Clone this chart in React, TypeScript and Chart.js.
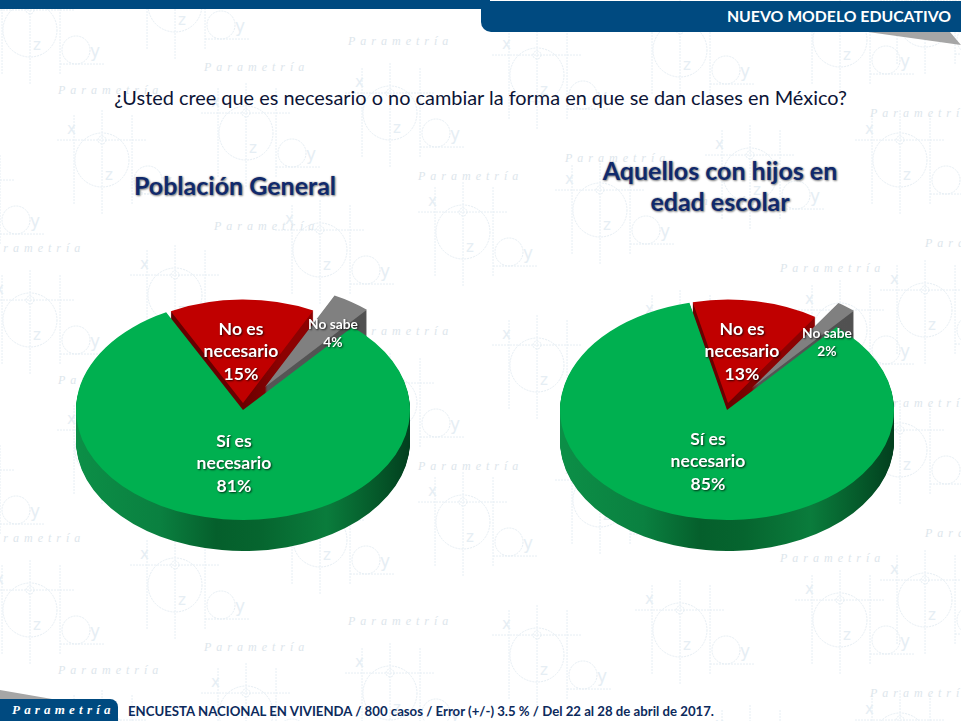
import { useEffect, useRef } from "react";
import Chart from "chart.js/auto";

const categories = ["Sí es necesario", "No es necesario", "No sabe"];
const labelLines = [["Sí es", "necesario"], ["No es", "necesario"], ["No sabe"]];
const generalValues = [81, 15, 4];
const hijosValues = [85, 13, 2];

const faceColors = ["#00b050", "#c00000", "#808080"];
const CANVAS = 400;
const RADIUS = 167;
const SQUASH = 110 / 167;
const DEPTH = 31;

const generalLayout = {
  left: 43, top: 210, rotation: 41,
  lifts: [{ x: 0, y: 0, s: 1 }, { x: 0, y: -7, s: 0.94 }, { x: 22, y: -23, s: 0.93 }],
  labels: [{ x: 234, y: 441 }, { x: 241, y: 329 }, { x: 333, y: 325 }],
};
const hijosLayout = {
  left: 527, top: 210, rotation: 41,
  lifts: [{ x: 0, y: 0, s: 1 }, { x: 1, y: -7, s: 0.94 }, { x: 25, y: -22, s: 0.93 }],
  labels: [{ x: 708, y: 439 }, { x: 742, y: 329 }, { x: 827, y: 334 }],
};

// watermark pieces, one tile repeated down the page
const tileCircles = [
  [30, 30], [102, 160], [246, 133], [390, 113], [320, 250], [463, 232], [537, 75], [680, 50], [840, 40],
  [600, 210], [750, 175], [900, 160], [925, 20], [175, 5], [-30, 200],
];
const tileWords = [
  [348, 45], [204, 71], [58, 94], [870, 117], [565, 162], [418, 180], [214, 230], [780, 272], [655, 205], [-20, 252], [925, 247],
];
const TILE_H = 290;

function wedge(ctx: CanvasRenderingContext2D, arc: any, cx: number, cy: number) {
  ctx.beginPath();
  ctx.moveTo(cx, cy);
  ctx.arc(cx, cy, arc.outerRadius, arc.startAngle, arc.endAngle);
  ctx.closePath();
}

function wallFill(ctx: CanvasRenderingContext2D, i: number, cx: number) {
  const g = ctx.createLinearGradient(cx - RADIUS, 0, cx + RADIUS, 0);
  if (i === 0) {
    g.addColorStop(0, "#0c8f47");
    g.addColorStop(0.25, "#0a8040");
    g.addColorStop(0.42, "#055f2c");
    g.addColorStop(0.55, "#06652f");
    g.addColorStop(0.75, "#0a7c3c");
    g.addColorStop(0.9, "#05592a");
    g.addColorStop(1, "#023f1e");
  } else if (i === 1) {
    g.addColorStop(0, "#5a0000");
    g.addColorStop(0.5, "#6a0000");
    g.addColorStop(0.62, "#8c0202");
    g.addColorStop(1, "#8c0202");
  } else {
    g.addColorStop(0, "#5e5e5e");
    g.addColorStop(1, "#4e4e4e");
  }
  return g;
}

function PieChart3D({ values, layout }: { values: number[]; layout: any }) {
  const ref = useRef<HTMLCanvasElement>(null);

  useEffect(() => {
    if (!ref.current) return;

    const pie3d = {
      id: "pie3d",
      beforeDatasetsDraw(chart: any) {
        const ctx = chart.ctx;
        const arcs = chart.getDatasetMeta(0).data;
        [1, 2, 0].forEach((i) => {
          const arc = arcs[i];
          const lift = layout.lifts[i];
          const place = (down: number) => {
            ctx.translate(arc.x + lift.x, arc.y + lift.y + down);
            ctx.scale(lift.s, lift.s * SQUASH);
            ctx.translate(-arc.x, -arc.y);
          };
          ctx.save();
          ctx.fillStyle = wallFill(ctx, i, arc.x);
          for (let d = DEPTH; d > 0; d--) {
            ctx.save();
            place(d);
            wedge(ctx, arc, arc.x, arc.y);
            ctx.fill();
            ctx.restore();
          }
          ctx.restore();
          ctx.save();
          place(0);
          arc.draw(ctx);
          ctx.restore();
        });
        return false;
      },
      afterDraw(chart: any) {
        const ctx = chart.ctx;
        ctx.save();
        ctx.textAlign = "center";
        ctx.textBaseline = "middle";
        ctx.fillStyle = "#ffffff";
        ctx.shadowColor = "rgba(0,0,0,0.75)";
        ctx.shadowBlur = 2;
        ctx.shadowOffsetX = 1;
        ctx.shadowOffsetY = 1;
        values.forEach((v, i) => {
          const small = i === 2;
          const lines = [...labelLines[i], v + "%"];
          ctx.font = `bold ${small ? 13.8 : 17.6}px Lato`;
          lines.forEach((line, n) => {
            const pos = layout.labels[i];
            ctx.fillText(line, pos.x - layout.left, pos.y - layout.top + n * (small ? 18 : 22.5));
          });
        });
        ctx.restore();
      },
    };

    const chart = new Chart(ref.current, {
      type: "pie",
      data: {
        labels: categories,
        datasets: [{ data: values, backgroundColor: faceColors, borderWidth: 0, radius: RADIUS } as any],
      },
      options: {
        responsive: false,
        animation: false,
        devicePixelRatio: 1,
        rotation: layout.rotation,
        plugins: { legend: { display: false }, tooltip: { enabled: false } },
      },
      plugins: [pie3d],
    } as any);

    return () => chart.destroy();
  }, [values, layout]);

  return (
    <canvas
      ref={ref}
      width={CANVAS}
      height={CANVAS}
      style={{ position: "absolute", left: layout.left, top: layout.top, width: CANVAS, height: CANVAS }}
    ></canvas>
  );
}

function Watermark() {
  const stroke = "#e6eef4";
  const tile = (y: number) => (
    <g key={y} transform={`translate(0 ${y})`}>
      {tileCircles.map(([cx, cy], i) => (
        <g key={i} fill="none" stroke={stroke} strokeWidth="1" strokeDasharray="2 1">
          <circle cx={cx} cy={cy} r="27" />
          <circle cx={cx} cy={cy - 20} r="4" />
          <path d={`M${cx - 45} ${cy - 20}H${cx + 45}M${cx} ${cy - 50}V${cy + 55}M${cx - 28} ${cy - 45}V${cy + 45}M${cx + 30} ${cy - 45}V${cy + 45}`} />
          <circle cx={cx + 46} cy={cy + 20} r="14" />
          <path d={`M${cx + 30} ${cy + 34}H${cx + 75}`} />
          <text x={cx + 60} y={cy + 27} stroke="none" fill={stroke} fontFamily="DejaVu Sans" fontSize="17">y</text>
          <text x={cx + 3} y={cy + 20} stroke="none" fill={stroke} fontFamily="DejaVu Sans" fontSize="15">z</text>
          <text x={cx - 35} y={cy - 26} stroke="none" fill={stroke} fontFamily="DejaVu Sans" fontSize="15">x</text>
        </g>
      ))}
      {tileWords.map(([x, wy], i) => (
        <text key={i} x={x} y={wy} fill="#dde6ec" fontFamily="Liberation Serif" fontStyle="italic" fontSize="12" letterSpacing="5">Parametría</text>
      ))}
    </g>
  );
  return (
    <svg width="961" height="721" style={{ position: "absolute", left: 0, top: 0 }}>
      {[0, TILE_H, TILE_H * 2].map(tile)}
    </svg>
  );
}

const text = (left: number, top: number, width: number, style: any) => ({
  position: "absolute", left, top, width, fontFamily: "Lato", textAlign: "center", ...style,
});
const titleStyle = {
  fontSize: 25, fontWeight: "bold", color: "#10296b", lineHeight: "31px",
  textShadow: "0 0 2px #a0a0a0, 1px 1px 2px #808080",
};

export default function App() {
  return (
    <div style={{ position: "relative", width: 961, height: 721, overflow: "hidden", background: "#fff" }}>
      <style>{`html,body{margin:0;padding:0;overflow:hidden}`}</style>
      <Watermark />

      <div style={{ position: "absolute", left: 0, top: 0, width: 490, height: 9, background: "#004a80" }}></div>
      <div style={{ position: "absolute", left: 481, top: 1, width: 480, height: 31, background: "#004a80", borderBottomLeftRadius: 10 }}></div>
      <svg width="961" height="721" style={{ position: "absolute", left: 0, top: 0 }}>
        <polygon points="868,32 950,32 961,45" fill="#a6a6a6" />
        <polygon points="0,690 0,699 52,699" fill="#a6a6a6" />
      </svg>
      <div style={text(600, 6, 351, { textAlign: "right", color: "#fff", fontWeight: "bold", fontSize: 15.8, lineHeight: "20px" })}>NUEVO MODELO EDUCATIVO</div>

      <div style={text(60, 84, 841, { color: "#0c1436", fontSize: 19.9, lineHeight: "26px" })}>¿Usted cree que es necesario o no cambiar la forma en que se dan clases en México?</div>

      <div style={text(85, 170, 300, titleStyle)}>Población General</div>
      <div style={text(570, 155, 300, titleStyle)}>Aquellos con hijos en<br />edad escolar</div>

      <PieChart3D values={generalValues} layout={generalLayout} />
      <PieChart3D values={hijosValues} layout={hijosLayout} />

      <div style={{ position: "absolute", left: 0, top: 699, width: 118, height: 22, background: "#004a80", borderTopRightRadius: 8 }}></div>
      <div style={{ position: "absolute", left: 12, top: 702, color: "#fff", fontFamily: "Liberation Serif", fontStyle: "italic", fontWeight: "bold", fontSize: 13, letterSpacing: 4.2, lineHeight: "16px" }}>Parametría</div>
      <div style={{ position: "absolute", left: 128, top: 702, color: "#0c2a5c", fontFamily: "Lato", fontWeight: "bold", fontSize: 13.2, lineHeight: "18px", whiteSpace: "nowrap" }}>ENCUESTA NACIONAL EN VIVIENDA / 800 casos / Error (+/-) 3.5 % / Del 22 al 28 de abril de 2017.</div>
    </div>
  );
}
